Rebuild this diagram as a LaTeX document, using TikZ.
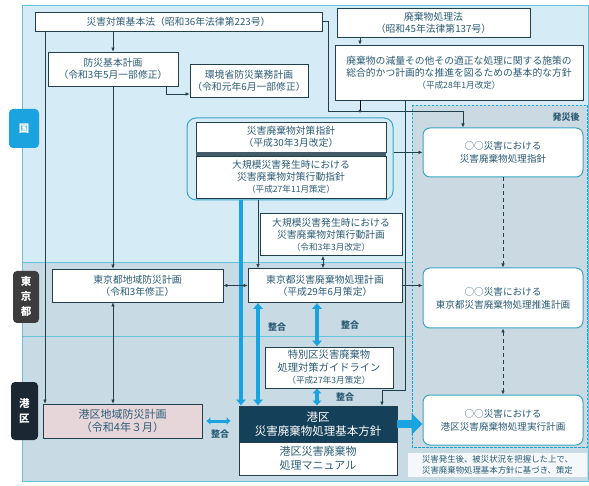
\documentclass[tikz,border=0pt]{standalone}
\usepackage{fontspec}
\setmainfont{Noto Sans CJK JP}
\usepackage{xcolor}
\usepackage{tikz}
\usetikzlibrary{arrows.meta}

\definecolor{linec}{HTML}{223F4C}
\definecolor{txtc}{HTML}{2C5C75}
\definecolor{kunibg}{HTML}{D5EBF6}
\definecolor{lowbg}{HTML}{C8DAE4}
\definecolor{aftbg}{HTML}{CBD9E2}
\definecolor{bandline}{HTML}{63C4DA}
\definecolor{blueth}{HTML}{1BA3E0}
\definecolor{navy}{HTML}{15405A}
\definecolor{tealr}{HTML}{3AA5C4}
\definecolor{pinkbg}{HTML}{E6D6DA}
\definecolor{tokyotag}{HTML}{3C3C3C}
\definecolor{minatotag}{HTML}{1B2833}

\newcommand{\datel}[1]{{\fontsize{8.6}{10.5}\selectfont #1}}

\tikzset{
  box/.style={rectangle, draw=linec, fill=white, line width=0.7pt, align=center,
    inner sep=1pt, text=txtc, font=\fontsize{9.8}{12}\selectfont},
  afterbox/.style={rectangle, rounded corners=7pt, draw=tealr, fill=white, line width=1pt,
    align=center, text=txtc, minimum width=160pt, font=\fontsize{9.6}{13}\selectfont},
  tag/.style={rectangle, rounded corners=4pt, text=white, align=center, inner sep=0pt,
    font=\fontsize{10.5}{15}\selectfont\bfseries},
  link/.style={draw=linec, line width=0.6pt, -{Latex[length=4pt,width=3.5pt]}},
  bilink/.style={draw=linec, line width=0.6pt, {Latex[length=4pt,width=3.5pt]}-{Latex[length=4pt,width=3.5pt]}},
  dashlink/.style={draw=linec, line width=0.6pt, dash pattern=on 4pt off 3pt},
  sync/.style={draw=blueth, line width=4.5pt, {Latex[length=6pt,width=11pt]}-{Latex[length=6pt,width=11pt]}},
  syncto/.style={draw=blueth, line width=4.5pt, -{Latex[length=6pt,width=11pt]}},
  bigarrow/.style={draw=blueth, line width=8pt, -{Triangle[length=11pt,width=21pt]}},
  synclbl/.style={text=txtc, font=\fontsize{9}{10}\selectfont\bfseries},
}

\begin{document}
\begin{tikzpicture}[x=1pt, y=-1pt]
\useasboundingbox (0,0) rectangle (589,486);

% bands
\fill[kunibg] (22,5) rectangle (588,262);
\fill[lowbg] (22,262) rectangle (588,481);
\draw[bandline, line width=0.8pt] (22,5) rectangle (588,481);
\draw[bandline, line width=0.8pt] (22,262) -- (588,262);
\draw[bandline, line width=0.8pt] (22,336) -- (588,336);

% after the disaster
\draw[blueth, line width=0.8pt, dash pattern=on 2.5pt off 1.5pt, fill=aftbg] (412,105) rectangle (587,447);
\node[text=txtc, font=\fontsize{9}{10}\selectfont\bfseries] (aftertitle) at (566,117) {発災後};

% tags
\node[tag, fill=blueth, minimum width=30pt, minimum height=39pt] (tagkuni) at (24,128.5) {国};
\node[tag, fill=tokyotag, minimum width=26pt, minimum height=52pt] (tagtokyo) at (26,297) {東\\京\\都};
\node[tag, fill=minatotag, minimum width=27pt, minimum height=58pt] (tagminato) at (24.5,411) {港\\区};

% national level
\node[box, minimum width=287pt, minimum height=19pt] (disasterlaw) at (178.5,21.5) {災害対策基本法（昭和36年法律第223号）};
\node[box, minimum width=193pt, minimum height=29pt] (wastelaw) at (433.5,22.5) {廃棄物処理法\\（昭和45年法律第137号）};
\node[box, minimum width=130pt, minimum height=34pt] (basicplan) at (113,69) {防災基本計画\\（令和3年5月一部修正）};
\node[box, minimum width=118pt, minimum height=33pt] (moeplan) at (249,80.5) {環境省防災業務計画\\（令和元年6月一部修正）};
\node[box, minimum width=248pt, minimum height=55pt] (wastepolicy) at (459,72.5) {廃棄物の減量その他その適正な処理に関する施策の\\総合的かつ計画的な推進を図るための基本的な方針\\\datel{（平成28年1月改定）}};

\node[draw=tealr, rounded corners=9pt, line width=1pt, minimum width=206pt, minimum height=82pt] (mainframe) at (290,159) {};
\node[box, minimum width=190pt, minimum height=30pt] (mainguide) at (291,137) {災害廃棄物対策指針\\（平成30年3月改定）};
\node[box, minimum width=190pt, minimum height=42pt] (actguide) at (291,177) {大規模災害発生時における\\災害廃棄物対策行動指針\\\datel{（平成27年11月策定）}};
\fill[linec!85] (mainguide.south west) rectangle (actguide.north east);
\node[box, minimum width=142pt, minimum height=42pt] (actplan) at (331,234.5) {大規模災害発生時における\\災害廃棄物対策行動計画\\\datel{（令和3年3月改定）}};

% tokyo level
\node[box, minimum width=171pt, minimum height=33pt] (tokyoregion) at (137.5,285.5) {東京都地域防災計画\\（令和3年修正）};
\node[box, minimum width=154pt, minimum height=34pt] (tokyoplan) at (325,285.5) {東京都災害廃棄物処理計画\\（平成29年6月策定）};
\node[box, minimum width=128pt, minimum height=41pt, font=\fontsize{10.3}{12.5}\selectfont] (wardguide) at (329,367.5) {特別区災害廃棄物\\処理対策ガイドライン\\\datel{（平成27年3月策定）}};

% minato level
\node[box, fill=pinkbg, minimum width=159pt, minimum height=34pt, font=\fontsize{11}{13.5}\selectfont] (minatoregion) at (122.5,421) {港区地域防災計画\\（令和4年３月）};
\node[box, fill=navy, text=white, minimum width=158pt, minimum height=36pt, font=\fontsize{11.5}{14}\selectfont] (minatobasic) at (318,424) {港区\\災害廃棄物処理基本方針};
\node[box, minimum width=158pt, minimum height=33pt, font=\fontsize{11}{14}\selectfont] (minatomanual) at (318,458.5) {港区災害廃棄物\\処理マニュアル};

% plans after the disaster
\node[afterbox, minimum height=49pt] (afterguide) at (503,152.5) {○○災害における\\災害廃棄物処理指針};
\node[afterbox, minimum height=60pt] (aftertokyo) at (503,298) {○○災害における\\東京都災害廃棄物処理推進計画};
\node[afterbox, minimum height=50pt] (afterminato) at (503,420) {○○災害における\\港区災害廃棄物処理実行計画};
\node[fill=white!80!lowbg, minimum width=179pt, minimum height=24pt, align=center, inner sep=1pt,
  text=txtc, font=\fontsize{8.4}{11}\selectfont] (note) at (497.5,465) {災害発生後、被災状況を把握した上で、\\災害廃棄物処理基本方針に基づき、策定};

% thick links
\draw[syncto] (mainframe.south -| 241,0) -- (minatobasic.north -| 241,0);
\draw[sync] (tokyoplan.south -| 258,0) -- (minatobasic.north -| 258,0);
\draw[sync] (tokyoplan.south -| 317,0) -- (wardguide.north -| 317,0);
\draw[sync, {Latex[length=5pt,width=10pt]}-{Latex[length=5pt,width=10pt]}] (wardguide.south -| 317,0) -- (minatobasic.north -| 317,0);
\draw[sync, line width=3pt, shorten <=4pt, shorten >=8pt, {Latex[length=4pt,width=8pt]}-{Latex[length=4pt,width=8pt]}] (minatoregion.east) -- (minatobasic.west |- minatoregion.east);
\draw[bigarrow] (minatobasic.east) -- (afterminato.west |- minatobasic.east);
\node[synclbl] (syncA) at (277,327) {整合};
\node[synclbl] (syncB) at (350,325) {整合};
\node[synclbl] (syncC) at (345,397) {整合};
\node[synclbl] (syncD) at (220,434) {整合};

% thin links
\coordinate (jn) at (360,111);
\draw[link] (disasterlaw.south -| basicplan.north) -- (basicplan.north);
\draw[link] (disasterlaw.south -| 45,0) -- (minatoregion.north -| 45,0);
\draw[link] (basicplan.south) -- (tokyoregion.north -| basicplan.south);
\draw[bilink] (tokyoregion.south -| basicplan.south) -- (minatoregion.north -| basicplan.south);
\draw[link] ([xshift=-12pt]basicplan.south east) |- ([yshift=-13.5pt]moeplan.west);
\draw[link] (disasterlaw.east) -| (328,111) -| (afterguide.north -| 463,0);
\draw[link] (wastelaw.south -| jn) -- (wastepolicy.north -| jn);
\draw (wastepolicy.south -| jn) -- (jn);
\fill[linec] (jn) circle (1.6pt);
\draw[link] (wastepolicy.south -| 405,0) |- (382,390) -- (minatobasic.north -| 382,0);
\draw[link] (mainframe.east |- mainguide.south) -- (afterguide.west |- mainguide.south);
\draw[link] (mainframe.south -| 258,0) -- (tokyoplan.north -| 258,0);
\draw[bilink] (actplan.south -| 323,0) -- (tokyoplan.north -| 323,0);
\draw[bilink] (tokyoregion.east) -- (tokyoplan.west |- tokyoregion.east);
\draw[link] (tokyoplan.east) -- (aftertokyo.west |- tokyoplan.east);
\draw[dashlink, -{Latex[length=4pt,width=3.5pt]}] (afterguide.south) -- (aftertokyo.north);
\draw[dashlink, {Latex[length=4pt,width=3.5pt]}-{Latex[length=4pt,width=3.5pt]}] (aftertokyo.south) -- (afterminato.north);
\end{tikzpicture}
\end{document}
